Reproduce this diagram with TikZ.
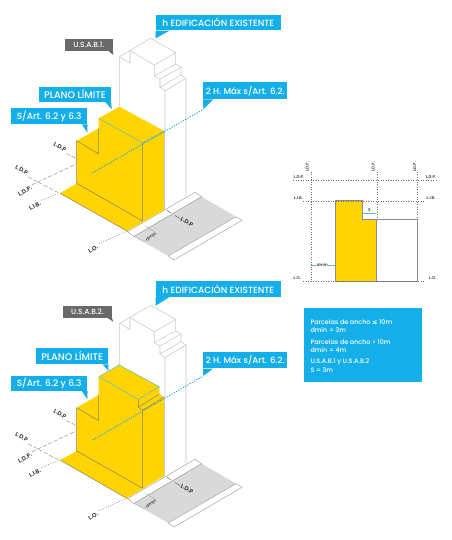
\documentclass[tikz,border=0pt]{standalone}
\usepackage{fontspec}
\setmainfont{Poppins}[BoldFont={Poppins Medium}]
\newfontfamily\symfont{DejaVu Sans}
\newfontfamily\lblfont{Poppins SemiBold}
\definecolor{cyanbox}{RGB}{20,175,232}
\definecolor{greybox}{RGB}{105,105,108}
\definecolor{plotyellow}{RGB}{255,212,0}
\definecolor{towerline}{RGB}{200,200,200}
\definecolor{edgeline}{RGB}{135,130,100}
\definecolor{tealline}{RGB}{90,190,190}
\definecolor{groundgrey}{RGB}{217,217,217}
\definecolor{inkgrey}{RGB}{70,70,70}
\tikzset{
  tower/.style={draw=towerline,line width=.55pt,line join=round},
  edgeln/.style={draw=edgeline,line width=.5pt},
  tealln/.style={draw=tealline,line width=.5pt},
  blueDots/.style={draw=cyanbox!80!teal,line width=.8pt,dash pattern=on 1.3pt off 1.3pt},
  dashln/.style={draw=inkgrey!75,line width=.35pt,dash pattern=on 4pt off 2pt},
  dotln/.style={draw=inkgrey!80,line width=.4pt,dash pattern=on 1pt off 1.5pt},
  thinground/.style={draw=gray!70,line width=.5pt},
  lbl/.style={inner sep=0pt,font=\fontsize{5.8}{6.5}\lblfont,text=black!85},
  smalllbl/.style={inner sep=0pt,font=\fontsize{4.1}{4.7}\lblfont,text=black!75},
  callout/.style={inner sep=0pt,font=\fontsize{9}{10}\selectfont\bfseries,text=white},
  infotext/.style={inner sep=0pt,anchor=west,font=\fontsize{6.4}{8}\selectfont\bfseries,text=white}
}
\newcommand{\groundpart}[1]{%
  \fill[white,thinground] (127.5,231.5) -- (195,192.3) -- (201.7,196.7) -- (134,236.5) -- cycle;
  \fill[groundgrey] (134,236.5) -- (201.7,196.7) -- (236,216.7) -- (168.3,256) -- cycle;
  \draw[thinground,fill=white] (168.3,256) -- (236,216.7) -- (242,220.3) -- (174,260) -- cycle;
  \draw[thinground] (134,236.5) -- (201.7,196.7);
  \draw[thinground,line width=.3pt] (134,236.5) -- (144,241.7) -- (155.3,232.3) -- (145,226);
  \node[lbl,font=\fontsize{4.6}{6}\selectfont,rotate=35] (dm#1) at (151,236.8) {dmin};
  \draw[inkgrey,line width=.35pt] (166.7,210) -- (171,213);
  \draw[inkgrey,line width=.35pt] (175,215.5) -- (180,218.5);
  \node[lbl,rotate=-30] (ldpr#1) at (187,222) {L.D.P};
  \node[lbl,rotate=-30] (ldpa#1) at (60,146.7) {L.D.P};
  \node[lbl,rotate=-30] (ldpb#1) at (21.7,170) {L.D.P};
  \node[lbl,rotate=30] (ldpc#1) at (25,191) {L.D.P.};
  \node[lbl,rotate=30] (lib#1) at (35,206) {L.I.B.};
  \node[lbl,rotate=30] (lo#1) at (93.3,249) {L.O.};
  \coordinate (cnr#1) at (59.5,193.3);
  \draw[dashln] (ldpa#1.south east) ++(1.5,1.5) -- (75.7,158.3);
  \draw[dashln] (ldpb#1.south east) ++(1.5,1.5) -- (cnr#1);
  \draw[dashln] (ldpc#1.north east) ++(1.5,-.5) -- (75.7,164.3);
  \draw[dotln] (lib#1.north east) ++(1.5,-.5) -- (cnr#1);
  \draw[dotln] (lo#1.north east) ++(2,-.5) -- (127,231);
}
\newcommand{\towerpart}{%
  \draw[tower] (119.4,107) -- (119.4,56.7) -- (130,50.7) -- (150.7,38.3) -- (175.7,52.7) -- (154.3,65) -- (154.3,76) -- (160,79.3) -- (160,87.3) -- (165,90.7) -- (165,130);
  \draw[tower] (130,50.7) -- (130,63) -- (119.4,56.7);
  \draw[tower] (130,50.7) -- (154.3,65);
  \draw[tower] (175.7,52.7) -- (175.7,64) -- (181,67.3) -- (181,75) -- (186,78.3) -- (186,196.7);
  \draw[tower] (154.3,76) -- (175.7,64);
  \draw[tower] (160,79.3) -- (181,67.3);
  \draw[tower] (160,87.3) -- (181,75);
  \draw[tower] (165,90.7) -- (186,78.3);
}
\begin{document}
\begin{tikzpicture}[x=1pt,y=-1pt]
\useasboundingbox[fill=white] (0,0) rectangle (451,540);

%%% ---------- top drawing ----------
\groundpart{T}
\towerpart
\fill[plotyellow] (119.3,106.7) -- (98.7,118.3) -- (98.7,128.3) -- (76.7,140.7) -- (76.7,183.3) -- (60,193.3) -- (127,231) -- (164.3,210) -- (164.3,131) -- cycle;
\draw[tower] (164.3,131) -- (164.3,210);
\draw[edgeln] (76.7,140.7) -- (98.7,154) -- (98.7,128.3);
\draw[edgeln] (76.7,140.7) -- (76.7,183.3) -- (142.7,221) -- (142.7,143);
\draw[tealln] (98.7,118.3) -- (142.7,143) -- (164.3,131);
\draw[edgeln] (60,193.3) -- (127,231);
\draw[blueDots] (92.7,172.7) -- (203.3,109.3);

\node[callout,fill=cyanbox,minimum width=124.7pt,minimum height=15.3pt] (hT) at (218.3,22.7) {h EDIFICACIÓN EXISTENTE};
\fill[cyanbox] (hT.south west) -- ++(14,0) -- (155.7,38.3) -- cycle;
\node[callout,fill=greybox,minimum width=47.7pt,minimum height=11.7pt,font=\fontsize{7.4}{8}\selectfont\bfseries] (usT) at (88.8,44.9) {U.S.A.B.1.};
\fill[greybox] (usT.south east) -- ++(-4.5,0) -- (113.3,55) -- cycle;
\node[callout,fill=cyanbox,minimum width=72pt,minimum height=15pt,font=\fontsize{9.6}{10}\selectfont\bfseries] (plT) at (75,94.2) {PLANO LÍMITE};
\fill[cyanbox] (plT.south east) -- ++(-6,0) -- (111.7,109.3) -- cycle;
\node[callout,fill=cyanbox,minimum width=76.3pt,minimum height=16.6pt] (saT) at (49.2,116) {S/Art. 6.2 y 6.3};
\fill[cyanbox] (saT.south east) -- ++(-5.6,0) -- (87.3,132.7) -- cycle;
\node[callout,fill=cyanbox,minimum width=84pt,minimum height=17pt,font=\fontsize{8.6}{10}\selectfont\bfseries] (maxT) at (245.3,90.8) {2 H. Máx s/Art. 6.2.};
\fill[cyanbox] (maxT.south west) -- ++(10,0) -- (203.3,109.3) -- cycle;

%%% ---------- bottom drawing ----------
\begin{scope}[shift={(0,267)}]
\groundpart{B}
\end{scope}
\begin{scope}[shift={(0,266.7)}]
\towerpart
\end{scope}
\fill[plotyellow] (119.3,365) -- (98.7,376.7) -- (98.7,395) -- (76.7,407.7) -- (76.7,451) -- (60,460) -- (126.7,498.3) -- (164.3,476) -- (164.3,397) -- (159.3,394) -- (159.3,386.7) -- cycle;
\draw[tower] (164.3,397) -- (164.3,476);
\draw[edgeln] (76.7,407.7) -- (98.7,420.7) -- (98.7,395);
\draw[edgeln] (76.7,407.7) -- (76.7,451) -- (142.7,488.3) -- (142.7,410);
\draw[tealln] (98.7,376.7) -- (138.3,399.3) -- (159.3,386.7) -- (119.3,365) -- (98.7,376.7);
\draw[edgeln] (138.3,399.3) -- (138.3,407.3) -- (142.7,410) -- (164.3,397);
\draw[edgeln] (138.3,407.3) -- (159.3,394);
\draw[edgeln] (60,460) -- (126.7,498.3);
\draw[blueDots] (92.7,440) -- (203.3,376);

\node[callout,fill=cyanbox,minimum width=124.7pt,minimum height=15.3pt] (hB) at (218.3,289) {h EDIFICACIÓN EXISTENTE};
\fill[cyanbox] (hB.south west) -- ++(14,0) -- (155.7,305.7) -- cycle;
\node[callout,fill=greybox,minimum width=48.4pt,minimum height=12pt,font=\fontsize{7.4}{8}\selectfont\bfseries] (usB) at (87.5,311.7) {U.S.A.B.2.};
\fill[greybox] (usB.south east) -- ++(-4.5,0) -- (113.3,321.7) -- cycle;
\node[callout,fill=cyanbox,minimum width=72.3pt,minimum height=15.7pt,font=\fontsize{9.6}{10}\selectfont\bfseries] (plB) at (72.2,356.2) {PLANO LÍMITE};
\fill[cyanbox] (plB.south east) -- ++(-6,0) -- (108.3,370.7) -- cycle;
\node[callout,fill=cyanbox,minimum width=76.3pt,minimum height=15.4pt] (saB) at (49.2,383.3) {S/Art. 6.2 y 6.3};
\fill[cyanbox] (saB.south east) -- ++(-5.6,0) -- (87.3,399.3) -- cycle;
\node[callout,fill=cyanbox,minimum width=84pt,minimum height=16.6pt,font=\fontsize{8.6}{10}\selectfont\bfseries] (maxB) at (245.3,360) {2 H. Máx s/Art. 6.2.};
\fill[cyanbox] (maxB.south west) -- ++(10,0) -- (203.3,376) -- cycle;

%%% ---------- section ----------
\fill[plotyellow] (335,200.7) -- (362.7,200.7) -- (362.7,219.3) -- (376.3,219.3) -- (376.3,281) -- (335,281) -- cycle;
\draw[gray!90,line width=.8pt] (335,281) -- (335,200.7) -- (362.7,200.7) -- (362.7,219.3) -- (417.3,219.3) -- (417.3,281) -- (335,281);
\draw[gray!90,line width=.8pt] (376.3,219.3) -- (376.3,281);
\draw[dotln] (293,180) -- (436.7,180);
\draw[dotln] (303,200.7) -- (425,200.7);
\draw[dotln] (303,281) -- (425,281);
\draw[dotln] (310.7,171.7) -- (310.7,281.7);
\draw[dotln] (376.7,171.7) -- (376.7,219);
\draw[dotln] (417.3,171.7) -- (417.3,219);
\draw[tealln,line width=.35pt] (362.7,212.7) -- (376.3,212.7);
\draw[tealln] (310.7,265) -- (335,265);
\node[smalllbl,fill=white,inner xsep=.8pt] (sL) at (369.4,210) {S};
\node[smalllbl,fill=white,inner xsep=.5pt] (dL) at (322.3,264.7) {dmin};
\node[smalllbl] (a1) at (299,177.3) {L.D.P.};
\node[smalllbl] (a2) at (298.3,197.7) {L.I.B.};
\node[smalllbl] (a3) at (297.3,278) {L.O.};
\node[smalllbl] (b1) at (431,177.3) {L.D.P.};
\node[smalllbl] (b2) at (431,197.7) {L.I.B.};
\node[smalllbl] (b3) at (432.7,278) {L.O.};
\node[smalllbl,rotate=90] (c1) at (307.3,166.7) {L.D.P.};
\node[smalllbl,rotate=90] (c2) at (373.3,166.7) {L.D.P.};
\node[smalllbl,rotate=90] (c3) at (414.7,166.7) {L.D.P.};

%%% ---------- info box ----------
\node[fill=cyanbox,minimum width=118pt,minimum height=74pt,inner sep=0pt] (info) at (363.3,345.3) {};
\node[infotext] (t1) at (310.3,321.7) {Parcelas de ancho {\symfont ≤} 10m};
\node[infotext] (t2) at (310.3,330) {dmin = 3m};
\node[infotext] (t3) at (310.3,342.3) {Parcelas de ancho > 10m};
\node[infotext] (t4) at (310.3,350) {dmin = 4m};
\node[infotext] (t5) at (310.3,362.3) {U.S.A.B.1 y U.S.A.B.2};
\node[infotext] (t6) at (310.3,370) {S = 3m};
\end{tikzpicture}
\end{document}
